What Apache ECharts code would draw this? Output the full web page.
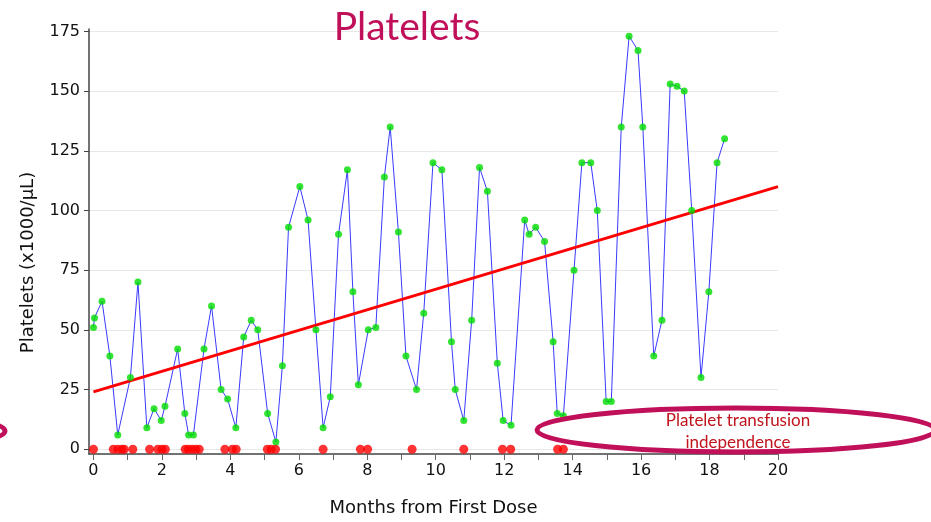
<!DOCTYPE html>
<html>
<head>
<meta charset="utf-8">
<script src="https://cdn.jsdelivr.net/npm/echarts@6/dist/echarts.min.js"></script>
<style>
  html, body { margin: 0; padding: 0; background: #fff; }
  #chart { width: 931px; height: 522px; }
</style>
</head>
<body>
<div id="chart"></div>
<script>
// months after first dose for each platelet count
var pltMonths = [0, 0.03, 0.25, 0.48, 0.71, 1.08, 1.30, 1.56, 1.77, 1.98, 2.09, 2.46, 2.67, 2.78, 2.92,
  3.23, 3.45, 3.73, 3.92, 4.16, 4.39, 4.61, 4.80, 5.09, 5.33, 5.52, 5.70, 6.03, 6.27, 6.50, 6.71, 6.92,
  7.16, 7.42, 7.58, 7.74, 8.03, 8.25, 8.50, 8.67, 8.91, 9.13, 9.44, 9.65, 9.92, 10.18, 10.46, 10.57,
  10.82, 11.05, 11.28, 11.51, 11.80, 11.97, 12.20, 12.60, 12.73, 12.92, 13.18, 13.43, 13.55, 13.73,
  14.04, 14.27, 14.53, 14.72, 14.98, 15.13, 15.42, 15.65, 15.91, 16.05, 16.37, 16.61, 16.85, 17.05,
  17.26, 17.48, 17.75, 17.98, 18.22, 18.44];
var pltValues = [51, 55, 62, 39, 6, 30, 70, 9, 17, 12, 18, 42, 15, 6, 6,
  42, 60, 25, 21, 9, 47, 54, 50, 15, 3, 35, 93, 110, 96, 50, 9, 22,
  90, 117, 66, 27, 50, 51, 114, 135, 91, 39, 25, 57, 120, 117, 45, 25,
  12, 54, 118, 108, 36, 12, 10, 96, 90, 93, 87, 45, 15, 14,
  75, 120, 120, 100, 20, 20, 135, 173, 167, 135, 39, 54, 153, 152,
  150, 100, 30, 66, 120, 130];
// platelet transfusions (drawn on the zero line)
var transfusionMonths = [0, 0.58, 0.71, 0.83, 0.90, 1.15, 1.64, 1.88, 2.00, 2.10, 2.68, 2.77, 2.88,
  2.99, 3.09, 3.84, 4.06, 4.17, 5.08, 5.19, 5.32, 6.71, 7.80, 8.01, 9.31, 10.82, 11.95, 12.19,
  13.56, 13.73];
// linear trend
var trendMonths = [0, 20];
var trendValues = [24, 110];
var xTicks = [0, 1, 2, 3, 4, 5, 6, 7, 8, 9, 10, 11, 12, 13, 14, 15, 16, 17, 18, 19, 20];
var xLabels = [0, 2, 4, 6, 8, 10, 12, 14, 16, 18, 20];
var yTicks = [0, 25, 50, 75, 100, 125, 150, 175];

function pairs(xs, ys) {
  return xs.map(function (x, i) { return [x, ys[i]]; });
}

var chart = echarts.init(document.getElementById('chart'));
var option = {
  animation: false,
  backgroundColor: '#fff',
  title: {
    text: 'Platelets',
    left: 402,
    top: 3,
    textAlign: 'center',
    textStyle: { fontFamily: 'Lato', fontSize: 39, fontWeight: 'normal', color: '#C0105A' }
  },
  grid: { left: 89, right: 153, top: 29, bottom: 65 },
  xAxis: {
    type: 'value',
    min: -0.13,
    max: 20,
    name: 'Months from First Dose',
    nameLocation: 'middle',
    nameGap: 45,
    nameTextStyle: { fontFamily: 'DejaVu Sans', fontSize: 18, color: '#111' },
    axisLine: { onZero: false, lineStyle: { color: '#444', width: 1.5 } },
    axisTick: { customValues: xTicks, length: 6, lineStyle: { color: '#666' } },
    axisLabel: { customValues: xLabels, fontFamily: 'DejaVu Sans', fontSize: 16, color: '#111', margin: 9 },
    splitLine: { show: false }
  },
  yAxis: {
    type: 'value',
    min: -2,
    max: 176,
    name: 'Platelets (x1000/μL)',
    nameLocation: 'middle',
    nameGap: 52,
    nameTextStyle: { fontFamily: 'DejaVu Sans', fontSize: 18, color: '#111', padding: [0, 42, 0, 0] },
    axisLine: { show: true, onZero: false, lineStyle: { color: '#444', width: 1.5 } },
    axisTick: { show: true, customValues: yTicks, length: 5, lineStyle: { color: '#444' } },
    axisLabel: { customValues: yTicks, fontFamily: 'DejaVu Sans', fontSize: 16, color: '#111', margin: 9 },
    splitLine: { show: true, lineStyle: { color: '#e8e8e8' } }
  },
  series: [
    {
      name: 'platelets line',
      type: 'line',
      data: pairs(pltMonths, pltValues),
      showSymbol: false,
      lineStyle: { color: '#3a3aff', width: 1 },
      z: 2
    },
    {
      name: 'trend',
      type: 'line',
      data: pairs(trendMonths, trendValues),
      showSymbol: false,
      lineStyle: { color: '#ff0000', width: 3 },
      z: 3
    },
    {
      name: 'platelets',
      type: 'scatter',
      data: pairs(pltMonths, pltValues),
      symbolSize: 7,
      itemStyle: { color: '#00dd00' },
      z: 4
    },
    {
      name: 'transfusions',
      type: 'scatter',
      data: transfusionMonths.map(function (m) { return [m, 0]; }),
      symbolSize: 9,
      itemStyle: { color: '#ff0000' },
      z: 4
    }
  ],
  graphic: [
    {
      type: 'ellipse',
      shape: { cx: 736, cy: 430, rx: 199, ry: 22 },
      style: { fill: null, stroke: '#C0105A', lineWidth: 5 },
      z: 100
    },
    {
      type: 'ellipse',
      shape: { cx: -190, cy: 431, rx: 195, ry: 22 },
      style: { fill: null, stroke: '#C0105A', lineWidth: 5 },
      z: 100
    },
    {
      type: 'text',
      x: 738,
      y: 410,
      style: {
        text: 'Platelet transfusion\nindependence',
        fill: '#C0141E',
        font: '17px Lato',
        lineHeight: 22,
        align: 'center'
      },
      z: 101
    }
  ]
};
chart.setOption(option);
</script>
</body>
</html>
